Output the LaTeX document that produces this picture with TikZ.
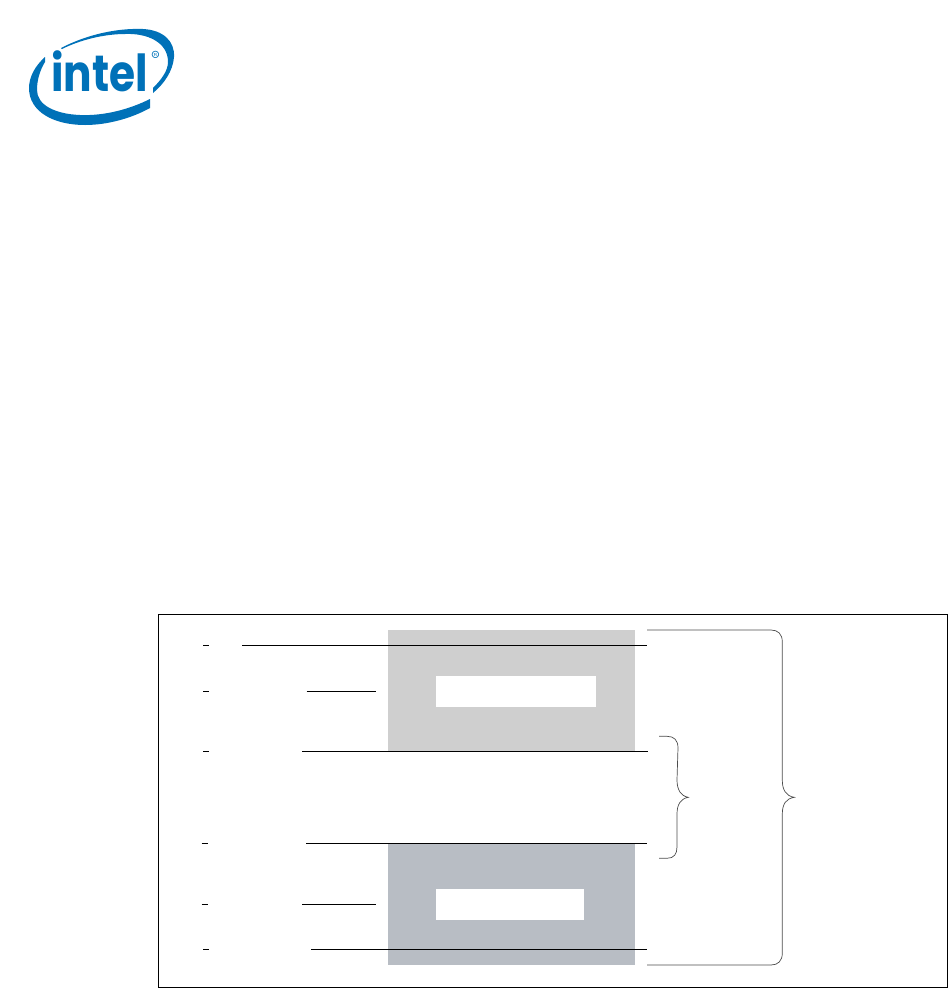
\documentclass[tikz,border=0pt]{standalone}
\usepackage{fontspec}
\newfontfamily\logofont{Poppins}
\usetikzlibrary{positioning}
\definecolor{inteblue}{RGB}{0,113,184}
\definecolor{bandtop}{RGB}{207,207,207}
\definecolor{bandlow}{RGB}{184,189,196}

\begin{document}
\begin{tikzpicture}[
 x=0.02cm, y=-0.02cm,
 band/.style={rectangle, draw=none, inner sep=0pt, minimum width=4.94cm},
 hole/.style={rectangle, fill=white, draw=none, inner sep=0pt},
 lead/.style={line width=0.6pt},
 curly/.style={line width=0.4pt, black!70},
]
\useasboundingbox (0,0) rectangle (950,988);
% logo
\fill[inteblue] (61,48) .. controls (88,34) and (118,28) .. (143,29)
 .. controls (163,30) and (175,41) .. (174,57)
 .. controls (173,71) and (164,84) .. (153,93) -- (153,88)
 .. controls (161,80) and (168,71) .. (168,62)
 .. controls (168,42) and (147,33) .. (125,34)
 .. controls (104,34) and (80,40) .. (62,49) -- cycle;
\fill[inteblue] (45,57) .. controls (35,66) and (29,77) .. (29,88)
 .. controls (29,112) and (54,125) .. (85,125)
 .. controls (108,125) and (132,118) .. (150,108) -- (150,99)
 .. controls (130,109) and (105,116) .. (80,115)
 .. controls (55,114) and (37,105) .. (37,90)
 .. controls (37,80) and (40,70) .. (45,62) -- cycle;
\node[inner sep=0pt, xscale=0.83, text=inteblue, font=\logofont\bfseries\fontsize{29}{29}\selectfont] (logotext) at (99.5,71.5) {intel};
\node[inner sep=0pt, text=inteblue, font=\bfseries\fontsize{6}{6}\selectfont] (logomark) at (155.5,54.5) {\textregistered};
% frame
\node[rectangle, draw, line width=0.6pt, inner sep=0pt, minimum width=15.78cm, minimum height=7.46cm] (frame) at (553,801) {};
% shaded bands
\node[band, fill=bandtop, minimum height=2.44cm] (topband) at (511.5,691) {};
\node[band, fill=bandlow, minimum height=2.43cm] (lowband) at (511.5,904.2) {};
\node[hole, minimum width=3.2cm, minimum height=0.62cm] (tophole) at (516,691.2) {};
\node[hole, minimum width=2.96cm, minimum height=0.63cm] (lowhole) at (510,904.3) {};
% ticks and leaders
\coordinate (ta) at (203,645.5);
\coordinate (tb) at (203,691.5);
\coordinate (tc) at (203,751.5);
\coordinate (td) at (201.5,843.5);
\coordinate (te) at (201.5,904.5);
\coordinate (tf) at (203,949.5);
\draw[lead] (ta) -- ++(6,0);
\draw[lead] (tb) -- ++(6,0);
\draw[lead] (tc) -- ++(6,0);
\draw[lead] (td) -- ++(6.5,0);
\draw[lead] (te) -- ++(6.5,0);
\draw[lead] (tf) -- ++(6,0);
\draw[lead] (242,645.5) -- (647,645.5);
\draw[lead] (306.7,691.5) -- (376,691.5);
\draw[lead] (302,751.5) -- (647.7,751.5);
\draw[lead] (306,843.5) -- (647,843.5);
\draw[lead] (302,904.5) -- (376,904.5);
\draw[lead] (311,949.5) -- (647,949.5);
% braces
\coordinate (bigtop) at (647,630);
\coordinate (bigtip) at (794.3,797.3);
\coordinate (bigend) at (647,965);
\draw[curly] (bigtop) -- (771,630) .. controls (778,630) and (782.3,634) .. (782.3,642)
 -- (782.3,780) .. controls (782.3,790) and (786,796) .. (bigtip)
 .. controls (786,798.6) and (782.3,804) .. (782.3,814)
 -- (782.3,953) .. controls (782.3,961) and (778,965) .. (771,965) -- (bigend);
\coordinate (smalltop) at (659,736.3);
\coordinate (smalltip) at (688.3,797.3);
\coordinate (smallend) at (659,858.3);
\draw[curly] (smalltop) -- (667,736.3) .. controls (674,736.3) and (678,740) .. (678,748)
 -- (677,780) .. controls (677,790) and (681,796) .. (smalltip)
 .. controls (681,798.6) and (677,804) .. (677,814)
 -- (677,847) .. controls (677,854) and (674,858.3) .. (667,858.3) -- (smallend);
\end{tikzpicture}
\end{document}
